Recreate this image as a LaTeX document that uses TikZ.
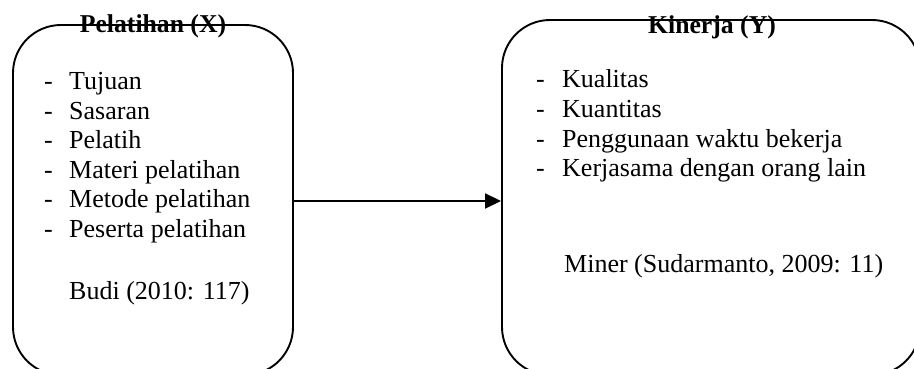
\documentclass[tikz,border=0pt]{standalone}
\usepackage{fontspec}
\setmainfont{Liberation Serif}
\usetikzlibrary{arrows.meta}
\begin{document}
\begin{tikzpicture}[x=1pt,y=-1pt,
  boxshape/.style={draw, line width=1.9pt, rounded corners=48pt, inner sep=0pt},
  txt/.style={anchor=base west, inner sep=0pt, font=\fontsize{26}{29.5}\selectfont},
  ttl/.style={anchor=base, inner sep=0pt, font=\fontsize{25.7}{29.5}\selectfont\bfseries},
  conn/.style={line width=1.9pt, -{Triangle[length=16pt,width=15pt]}}]
\useasboundingbox (0,0) rectangle (914,369);
\fill[white] (0,0) rectangle (914,369);
% boxes
\node[boxshape, minimum width=280pt, minimum height=350pt] (lbox) at (153,200) {};
\node[boxshape, minimum width=418pt, minimum height=355pt] (rbox) at (711,197.5) {};
% titles
\node[ttl] (lt) at (153,32.5) {Pelatihan (X)};
\node[ttl] (rt) at (712,34) {Kinerja (Y)};
% left list
\foreach \t [count=\i] in {Tujuan,Sasaran,Pelatih,Materi pelatihan,Metode pelatihan,Peserta pelatihan}{
  \node[txt] (ld\i) at (44,{89.5+(\i-1)*29.6}) {-};
  \node[txt] (li\i) at (69,{89.5+(\i-1)*29.6}) {\t};
}
\node[txt] (lsrc) at (69,299) {Budi (2010: 117)};
% right list
\foreach \t [count=\i] in {Kualitas,Kuantitas,Penggunaan waktu bekerja,Kerjasama dengan orang lain}{
  \node[txt] (rd\i) at (536,{88+(\i-1)*29.6}) {-};
  \node[txt] (ri\i) at (562,{88+(\i-1)*29.6}) {\t};
}
\node[txt] (rsrc) at (564,272) {Miner (Sudarmanto, 2009: 11)};
% connector
\coordinate (aend) at (rbox.west |- 0,201);
\coordinate (astart) at (lbox.east |- 0,201);
\draw[conn] (astart) -- (aend);
\end{tikzpicture}
\end{document}
